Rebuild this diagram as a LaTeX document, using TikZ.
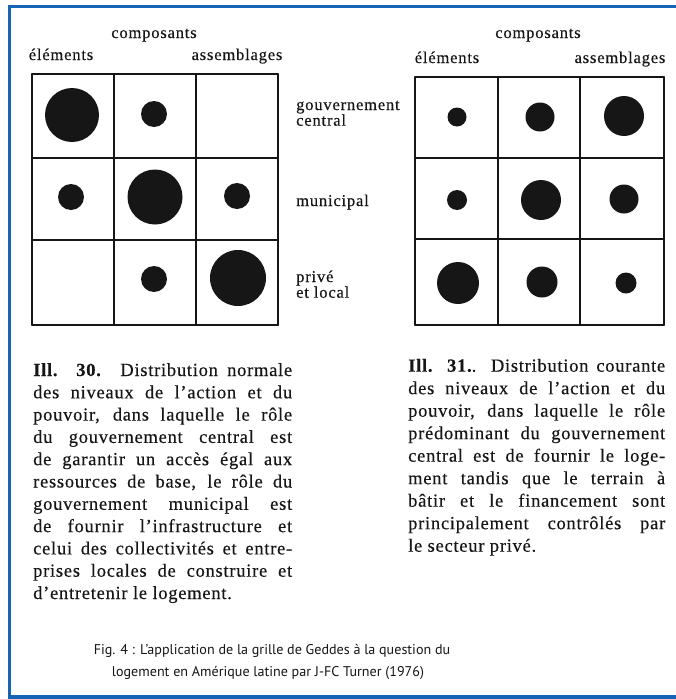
\documentclass[tikz,border=0pt]{standalone}
\usepackage{fontspec}
\setmainfont{Liberation Serif}
\newfontfamily\lblfont[LetterSpace=5,FakeBold=0.3]{Liberation Serif}
\newfontfamily\bodyfont[LetterSpace=4,FakeBold=0.3]{Liberation Serif}
\newfontfamily\capfont{PT Sans}
\definecolor{frameblue}{RGB}{22,100,182}
\definecolor{ink}{RGB}{22,22,22}
\newcommand\jl[1]{\makebox[\linewidth][s]{#1}\par}
\tikzset{
  gridline/.style={line width=1.9pt, ink, line cap=round, line join=round},
  dot/.style={circle, fill=ink, draw=none, inner sep=0pt},
  lbl/.style={inner sep=0pt, anchor=base west, text=ink, font=\lblfont\fontsize{16.5}{15.7}\selectfont},
  lblc/.style={lbl, anchor=base},
  para/.style={inner sep=0pt, anchor=base west, text=ink},
  captxt/.style={inner sep=0pt, anchor=base, text=ink, font=\capfont\fontsize{14.1}{22}\selectfont},
}
\begin{document}
\begin{tikzpicture}[x=1pt,y=-1pt]
\useasboundingbox (0,0) rectangle (675,699);
\fill[white] (0,0) rectangle (675,699);
\draw[frameblue, line width=3.2pt] (9.5,6.5) rectangle (700,697);

% left grid
\foreach \x in {32,114,196,278} \draw[gridline] (\x,74) -- (\x,325);
\foreach \y in {74,158,240,325} \draw[gridline] (32,\y) -- (278,\y);
% right grid
\foreach \x in {415,498,580,664} \draw[gridline] (\x,77) -- (\x,325);
\foreach \y in {77,158,239,325} \draw[gridline] (415,\y) -- (664,\y);

% left dots
\node[dot, minimum size=54pt] (L11) at (72,115) {};
\node[dot, minimum size=26pt] (L12) at (154,114) {};
\node[dot, minimum size=26pt] (L21) at (71,197) {};
\node[dot, minimum size=55pt] (L22) at (155,197) {};
\node[dot, minimum size=26pt] (L23) at (237,196) {};
\node[dot, minimum size=26pt] (L32) at (154,279) {};
\node[dot, minimum size=56pt] (L33) at (238,278) {};
% right dots
\node[dot, minimum size=19pt] (R11) at (457,117) {};
\node[dot, minimum size=29pt] (R12) at (540,117) {};
\node[dot, minimum size=40pt] (R13) at (624,116) {};
\node[dot, minimum size=20pt] (R21) at (457,200) {};
\node[dot, minimum size=40pt] (R22) at (541,200) {};
\node[dot, minimum size=29pt] (R23) at (624,199) {};
\node[dot, minimum size=42pt] (R31) at (458,283) {};
\node[dot, minimum size=31pt] (R32) at (542,282) {};
\node[dot, minimum size=21pt] (R33) at (626,283) {};

% headers
\node[lblc] (comp1) at (154,38) {composants};
\node[lblc] (elem1) at (61,60) {éléments};
\node[lblc] (ass1) at (237,60) {assemblages};
\node[lblc] (comp2) at (538,38) {composants};
\node[lblc] (elem2) at (447,63) {éléments};
\node[lblc] (ass2) at (620,63) {assemblages};

% row labels
\node[lbl] (gouv) at (296,110) {gouvernement};
\node[lbl] (cent) at (296,125.7) {central};
\node[lbl] (muni) at (296,206) {municipal};
\node[lbl] (priv) at (296,282) {privé};
\node[lbl] (loc) at (296,297.7) {et local};

% paragraphs
\node[para] (p30) at (33,376) {\parbox[t]{259pt}{\bodyfont\fontsize{18.5}{22.3}\selectfont\parindent0pt\parskip0pt
\jl{\textbf{Ill. 30.} Distribution normale}
\jl{des niveaux de l’action et du}
\jl{pouvoir, dans laquelle le rôle}
\jl{du gouvernement central est}
\jl{de garantir un accès égal aux}
\jl{ressources de base, le rôle du}
\jl{gouvernement municipal est}
\jl{de fournir l’infrastructure et}
\jl{celui des collectivités et entre-}
\jl{prises locales de construire et}
d’entretenir le logement.\par}};

\node[para] (p31) at (408,371.7) {\parbox[t]{257pt}{\bodyfont\fontsize{18.5}{22.5}\selectfont\parindent0pt\parskip0pt
\jl{\textbf{Ill. 31.}. Distribution courante}
\jl{des niveaux de l’action et du}
\jl{pouvoir, dans laquelle le rôle}
\jl{prédominant du gouvernement}
\jl{central est de fournir le loge-}
\jl{ment tandis que le terrain à}
\jl{bâtir et le financement sont}
\jl{principalement contrôlés par}
le secteur privé.\par}};

% caption
\node[captxt] (cap1) at (272,654) {Fig. 4 : L’application de la grille de Geddes à la question du};
\node[captxt] (cap2) at (268,676) {logement en Amérique latine par J-FC Turner (1976)};
\end{tikzpicture}
\end{document}
